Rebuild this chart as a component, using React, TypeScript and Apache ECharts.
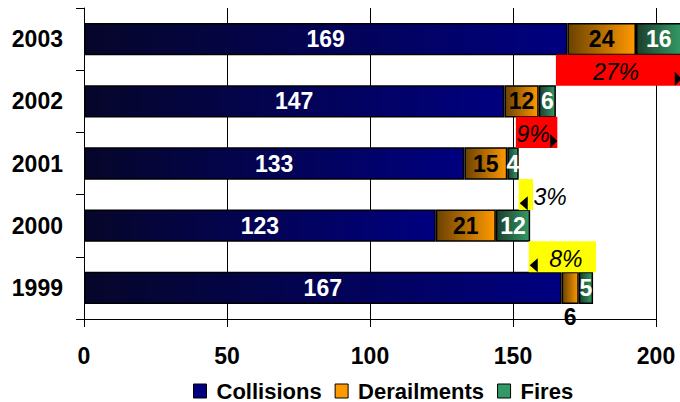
import React, { useEffect, useRef } from 'react';
import * as echarts from 'echarts';

const years = ['1999', '2000', '2001', '2002', '2003'];
const collisions = [167, 123, 133, 147, 169];
const derailments = [6, 21, 15, 12, 24];
const fires = [5, 12, 4, 6, 16];

// change callouts, placed in the gap above the given category
const callLabels = ['27%', '9%', '3%', '8%'];
const callStart = [165, 151, 152, 155.5];
const callEnd = [209, 165.5, 157, 179];
const callTextAt = [186, 157, 163, 168.5];
const callBelowCat = [3, 2, 1, 0];
const callColors = ['#ff0000', '#ff0000', '#ffff00', '#ffff00'];
const callArrow = ['right', 'right', 'left', 'left'];

const FONT = '"Liberation Sans", Arial, sans-serif';

const grad = (from: string, to: string) =>
  new echarts.graphic.LinearGradient(0, 0, 1, 0, [
    { offset: 0, color: from },
    { offset: 1, color: to },
  ]);

const App: React.FC = () => {
  const chartRef = useRef<HTMLDivElement>(null);

  useEffect(() => {
    if (!chartRef.current) return;
    const chart = echarts.init(chartRef.current, null, { renderer: 'svg' });

    const barLabel = (color: string) => ({
      show: true,
      position: 'inside' as const,
      color,
      fontSize: 23,
      fontWeight: 'bold' as const,
      fontFamily: FONT,
    });

    const option: echarts.EChartsOption = {
      animation: false,
      grid: { left: 84, right: 24, top: 8, bottom: 83, containLabel: false },
      legend: {
        top: 375,
        left: 188,
        icon: 'rect',
        itemWidth: 13,
        itemHeight: 14,
        itemGap: 13,
        textStyle: {
          color: '#000',
          fontSize: 22,
          fontWeight: 'bold',
          fontFamily: FONT,
          padding: [0, 0, 0, 5],
        },
        data: [
          { name: 'Collisions', itemStyle: { color: '#000080', borderColor: '#000', borderWidth: 1 } },
          { name: 'Derailments', itemStyle: { color: '#ff9900', borderColor: '#000', borderWidth: 1 } },
          { name: 'Fires', itemStyle: { color: '#339966', borderColor: '#000', borderWidth: 1 } },
        ],
      },
      xAxis: {
        type: 'value',
        min: 0,
        max: 200,
        interval: 50,
        axisLine: { show: true, lineStyle: { color: '#000', width: 1 } },
        axisTick: { show: true, length: 8, lineStyle: { color: '#000' } },
        splitLine: { show: true, lineStyle: { color: '#000', width: 1 } },
        axisLabel: {
          color: '#000',
          fontSize: 23,
          fontWeight: 'bold',
          fontFamily: FONT,
          margin: 25,
        },
      },
      yAxis: {
        type: 'category',
        data: years,
        axisLine: { show: true, lineStyle: { color: '#000', width: 1 } },
        axisTick: { show: true, length: 8, lineStyle: { color: '#000' } },
        axisLabel: {
          color: '#000',
          fontSize: 23,
          fontWeight: 'bold',
          fontFamily: FONT,
          margin: 21,
        },
      },
      series: [
        {
          name: 'Collisions',
          type: 'bar',
          stack: 'total',
          barWidth: '52%',
          clip: false,
          data: collisions,
          itemStyle: { color: grad('#06062a', '#000080'), borderColor: '#000', borderWidth: 1.5 },
          label: barLabel('#fff'),
        },
        {
          name: 'Derailments',
          type: 'bar',
          stack: 'total',
          clip: false,
          data: derailments.map((v, i) =>
            i === 0 ? { value: v, label: { position: 'bottom', distance: 1 } } : v
          ),
          itemStyle: { color: grad('#6b4200', '#ff9900'), borderColor: '#000', borderWidth: 1.5 },
          label: barLabel('#000'),
        },
        {
          name: 'Fires',
          type: 'bar',
          stack: 'total',
          clip: false,
          data: fires,
          itemStyle: { color: grad('#1c3f2c', '#339966'), borderColor: '#000', borderWidth: 1.5 },
          label: barLabel('#fff'),
        },
        {
          type: 'custom',
          name: 'callouts',
          clip: false,
          z: 5,
          data: callLabels.map((_, i) => [callStart[i], callEnd[i], callBelowCat[i], callTextAt[i]]),
          encode: { x: [0, 1], y: 2 },
          renderItem: (params: any, api: any) => {
            const i = params.dataIndex;
            const cat = api.value(2);
            const x0 = api.coord([api.value(0), cat])[0];
            const x1 = api.coord([api.value(1), cat])[0];
            const tx = api.coord([api.value(3), cat])[0];
            const yc = api.coord([0, cat])[1];
            const band = api.size([0, 1])[1];
            const yb = yc - band / 2;
            const half = band * 0.25;
            const bottom = yb + half;
            const tri =
              callArrow[i] === 'right'
                ? [[x1 - 7, bottom - 14], [x1, bottom - 7], [x1 - 7, bottom]]
                : [[x0 + 9, bottom - 14], [x0 + 1, bottom - 7], [x0 + 9, bottom]];
            return {
              type: 'group',
              children: [
                {
                  type: 'rect',
                  shape: { x: x0, y: yb - half, width: x1 - x0, height: half * 2 },
                  style: { fill: callColors[i] },
                },
                {
                  type: 'polygon',
                  shape: { points: tri },
                  style: { fill: '#000' },
                },
                {
                  type: 'text',
                  style: {
                    text: callLabels[i],
                    x: tx,
                    y: yb + 2,
                    fill: '#000',
                    font: `italic 23px ${FONT}`,
                    align: 'center',
                    verticalAlign: 'middle',
                  },
                },
              ],
            };
          },
        },
      ],
    };

    chart.setOption(option);
    return () => chart.dispose();
  }, []);

  return (
    <div
      ref={chartRef}
      style={{ position: 'fixed', left: 0, top: 0, width: 680, height: 402, background: '#fff' }}
    />
  );
};

export default App;
